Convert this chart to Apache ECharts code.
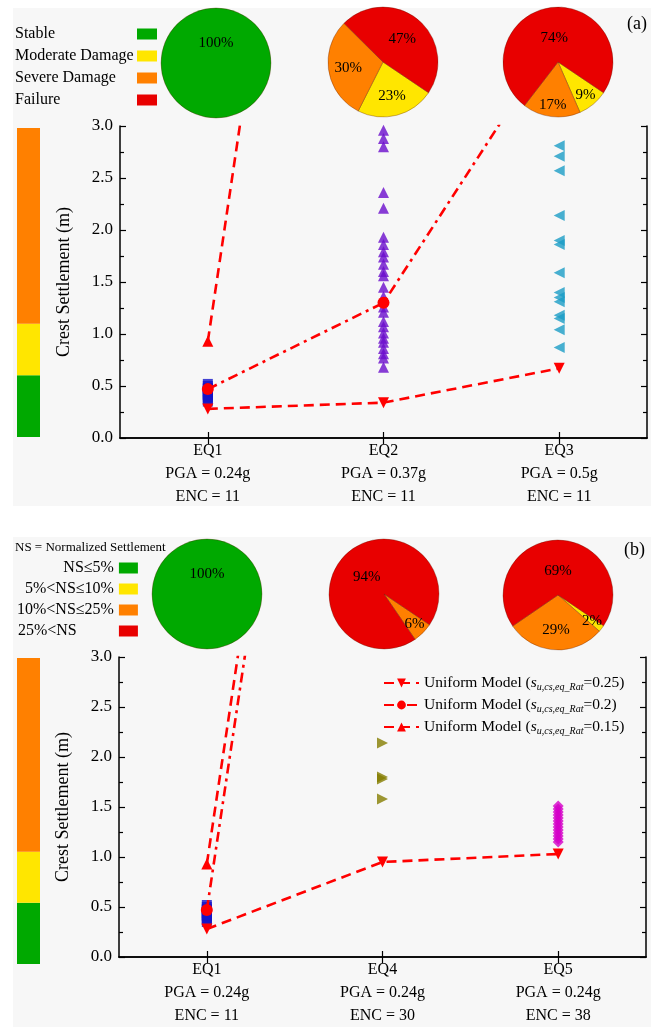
<!DOCTYPE html>
<html><head><meta charset="utf-8">
<script src="https://cdn.jsdelivr.net/npm/echarts@6/dist/echarts.min.js"></script>
<style>html,body{margin:0;padding:0;background:#fff}#c{width:661px;height:1027px}</style>
</head><body><div id="c"></div>
<script>
const FONT = "'Liberation Serif','Times New Roman',serif";

// ---------------- DATA ----------------
const categoriesA = ['EQ1', 'EQ2', 'EQ3'];
const categoriesB = ['EQ1', 'EQ4', 'EQ5'];
const pgaA = ['0.24g', '0.37g', '0.5g'];
const pgaB = ['0.24g', '0.24g', '0.24g'];
const encA = [11, 11, 11];
const encB = [11, 30, 38];

const classesA = ['Stable', 'Moderate Damage', 'Severe Damage', 'Failure'];
const classesB = ['NS≤5%', '5%<NS≤10%', '10%<NS≤25%', '25%<NS'];

// pie percentages, in class order (stable, moderate, severe, failure)
const pieA_EQ1 = [100, 0, 0, 0];
const pieA_EQ2 = [0, 23, 30, 47];
const pieA_EQ3 = [0, 9, 17, 74];
const pieB_EQ1 = [100, 0, 0, 0];
const pieB_EQ4 = [0, 0, 6, 94];
const pieB_EQ5 = [0, 2, 29, 69];

// damage band limits for the side colour bar (m)
const bandLimits = [0.6, 1.1, 3.0];

// crest settlements of individual analyses (m)
const eq1Settlement = [0.52, 0.50, 0.48, 0.47, 0.45, 0.44, 0.42, 0.41, 0.39, 0.37, 0.35];
const eq2Settlement = [2.96, 2.88, 2.80, 2.36, 2.21, 1.93, 1.86, 1.79, 1.74, 1.67, 1.60, 1.56, 1.45, 1.36, 1.26,
                       1.21, 1.12, 1.07, 1.01, 0.96, 0.92, 0.86, 0.81, 0.77, 0.68];
const eq3Settlement = [2.81, 2.71, 2.57, 2.14, 1.90, 1.86, 1.59, 1.40, 1.35, 1.31, 1.18, 1.15, 1.04, 0.87];
const eq4Settlement = [2.14, 1.80, 1.78, 1.58];
const eq5Settlement = [1.51, 1.48, 1.45, 1.42, 1.39, 1.36, 1.33, 1.30, 1.27, 1.24, 1.21, 1.18, 1.15];

// uniform model results
const ratios = ['0.25', '0.2', '0.15'];
const uniformA_025 = [0.28, 0.34, 0.67];
const uniformA_020 = [0.47, 1.30, 3.9];
const uniformA_015 = [0.93, 12.3, null];
const uniformB_025 = [0.28, 0.95, 1.03];
const uniformB_020 = [0.47, 12.2, null];
const uniformB_015 = [0.93, 12.7, null];

// ---------------- STYLE ----------------
const classColors = ['#00a900', '#ffe600', '#ff8000', '#e80000'];
const RED = '#ff0000';
const lineName = r => 'Uniform Model (s_u,cs,eq_Rat=' + r + ')';

function catAxes(gi, cats, pga, enc) {
  const line = { show: true, lineStyle: { color: '#000', width: 1.5 } };
  const tick = { show: true, inside: true, alignWithLabel: true, length: 6, lineStyle: { color: '#000', width: 1.2 } };
  return [
    { type: 'category', gridIndex: gi, data: cats, position: 'bottom', boundaryGap: true,
      axisLine: line, axisTick: tick, splitLine: { show: false },
      axisLabel: { color: '#000', fontFamily: FONT, fontSize: 16, lineHeight: 23, margin: 1,
        formatter: (v, i) => v + '\nPGA = ' + pga[i] + '\nENC = ' + enc[i] } },
    { type: 'category', gridIndex: gi, data: cats, position: 'top', boundaryGap: true,
      axisLine: line, axisTick: tick, axisLabel: { show: false }, splitLine: { show: false } }
  ];
}
function valAxes(gi) {
  const line = { show: true, lineStyle: { color: '#000', width: 1.5 } };
  const tick = { show: true, inside: true, length: 6, lineStyle: { color: '#000', width: 1.2 } };
  const minor = { show: true, splitNumber: 2, length: 4, lineStyle: { color: '#000', width: 1.2 } };
  return [
    { type: 'value', gridIndex: gi, min: 0, max: 3, interval: 0.5, position: 'left',
      name: 'Crest Settlement (m)', nameLocation: 'middle', nameGap: 47,
      nameTextStyle: { fontFamily: FONT, fontSize: 18, color: '#000' },
      axisLine: line, axisTick: tick, minorTick: minor, splitLine: { show: false },
      axisLabel: { formatter: v => v.toFixed(1), fontFamily: FONT, fontSize: 17, color: '#000', margin: 7 } },
    { type: 'value', gridIndex: gi, min: 0, max: 3, interval: 0.5, position: 'right',
      axisLine: line, axisTick: tick, minorTick: minor, splitLine: { show: false }, axisLabel: { show: false } }
  ];
}
function hiddenAxes(gi) {
  return {
    x: { type: 'category', gridIndex: gi, data: ['band'], show: false },
    y: { type: 'value', gridIndex: gi, min: 0, max: 3, show: false }
  };
}

function pieSeries(values, names, center, startAngle) {
  const R = 55;
  const data = values.map((v, i) => ({ name: names[i], value: v, itemStyle: { color: classColors[i] } }))
                     .filter(d => d.value > 0);
  const total = data.reduce((s, d) => s + d.value, 0);
  return {
    type: 'pie', center: center, radius: R, startAngle: startAngle, clockwise: true, silent: true,
    animation: false, data: data, z: 3,
    itemStyle: { borderColor: 'rgba(90,20,0,0.55)', borderWidth: 0.6 },
    label: { show: true, position: 'inside', formatter: p => p.value + '%', fontFamily: FONT, fontSize: 15, color: '#000' },
    labelLine: { show: false },
    emphasis: { disabled: true },
    labelLayout: params => {
      const i = params.dataIndex;
      let cum = 0;
      for (let k = 0; k < i; k++) cum += data[k].value;
      const v = data[i].value, share = v / total;
      const rf = share >= 0.99 ? 0.36 : share >= 0.6 ? 0.44 : share >= 0.4 ? 0.55 : share >= 0.2 ? 0.64 : 0.78;
      const mid = (startAngle - 360 * (cum + v / 2) / total) * Math.PI / 180;
      return { x: center[0] + rf * R * Math.cos(mid), y: center[1] - rf * R * Math.sin(mid),
               align: 'center', verticalAlign: 'middle' };
    }
  };
}

function scatter(xi, yi, cat, vals, symbol, size, rot, color) {
  return { type: 'scatter', xAxisIndex: xi, yAxisIndex: yi, symbol: symbol, symbolSize: size,
    symbolRotate: rot, itemStyle: { color: color }, z: 3, silent: true,
    data: vals.map(v => [cat, v]) };
}
function uniformLine(xi, yi, r, vals, symbol, size, rot, dash) {
  return { type: 'line', name: lineName(r), xAxisIndex: xi, yAxisIndex: yi, data: vals,
    symbol: symbol, symbolSize: size, symbolRotate: rot, showSymbol: true, clip: true, z: 5,
    connectNulls: false, silent: true,
    lineStyle: { color: RED, width: 2.6, type: dash },
    itemStyle: { color: RED } };
}
function bandBars(xi, yi) {
  const heights = bandLimits.map((v, i) => v - (i ? bandLimits[i - 1] : 0));
  return heights.map((h, i) => ({
    type: 'bar', name: 'band' + i, xAxisIndex: xi, yAxisIndex: yi, stack: 'band' + xi, barWidth: '100%',
    data: [h], itemStyle: { color: classColors[i] }, silent: true
  }));
}

const DASH = [10, 6];
const DASHDOT = [10, 5, 3, 5];

const hA = hiddenAxes(1), hB = hiddenAxes(3);
const xA = catAxes(0, categoriesA, pgaA, encA), xB = catAxes(2, categoriesB, pgaB, encB);
const yA = valAxes(0), yB = valAxes(2);

const option = {
  backgroundColor: '#ffffff',
  animation: false,
  textStyle: { fontFamily: FONT },
  graphic: [
    { type: 'rect', shape: { x: 13, y: 8, width: 638, height: 498 }, style: { fill: '#f7f7f7' }, z: -10, silent: true },
    { type: 'rect', shape: { x: 13, y: 537, width: 638, height: 490 }, style: { fill: '#f7f7f7' }, z: -10, silent: true }
  ],
  title: [
    { text: '(a)', left: 622, top: 10, textStyle: { fontFamily: FONT, fontSize: 18, fontWeight: 'normal', color: '#000' } },
    { text: '(b)', left: 619, top: 536, textStyle: { fontFamily: FONT, fontSize: 18, fontWeight: 'normal', color: '#000' } },
    { text: 'NS = Normalized Settlement', left: 10, top: 536, textStyle: { fontFamily: FONT, fontSize: 13, fontWeight: 'normal', color: '#000' } }
  ],
  grid: [
    { left: 120, top: 126, width: 527, height: 312 },
    { left: 17, top: 128, width: 23, height: 309 },
    { left: 119, top: 657, width: 527, height: 308 },
    { left: 17, top: 658, width: 23, height: 306 }
  ],
  xAxis: [xA[0], xA[1], hA.x, xB[0], xB[1], hB.x],
  yAxis: [yA[0], yA[1], hA.y, yB[0], yB[1], hB.y],
  legend: [
    { data: classesA, orient: 'vertical', left: 10, top: 20, align: 'right', icon: 'rect',
      itemWidth: 20, itemHeight: 11, itemGap: 4, selectedMode: false, itemStyle: { borderWidth: 0 },
      formatter: n => '{l|' + n + '}',
      textStyle: { fontFamily: FONT, fontSize: 16, color: '#000', lineHeight: 18,
        rich: { l: { width: 117, align: 'left', fontFamily: FONT, fontSize: 16, color: '#000' } } } },
    { data: classesB, orient: 'vertical', left: 12, top: 554, align: 'right', icon: 'rect',
      itemWidth: 19, itemHeight: 11, itemGap: 3, selectedMode: false, itemStyle: { borderWidth: 0 },
      formatter: n => n === '25%<NS' ? '{l|' + n + '}' : '{r|' + n + '}',
      textStyle: { fontFamily: FONT, fontSize: 16, color: '#000', lineHeight: 18,
        rich: { l: { width: 96, align: 'left', fontFamily: FONT, fontSize: 16, color: '#000' },
                r: { align: 'right', fontFamily: FONT, fontSize: 16, color: '#000' } } } },
    { data: ratios.map(lineName), orient: 'vertical', left: 378, top: 670, itemWidth: 35, itemHeight: 11,
      itemGap: 5, selectedMode: false,
      formatter: n => 'Uniform Model ({s|s}{sub|u,cs,eq_Rat}=' + n.split('=')[1],
      textStyle: { fontFamily: FONT, fontSize: 15.5, color: '#000',
        rich: { s: { fontFamily: FONT, fontSize: 15.5, fontStyle: 'italic', color: '#000' },
                sub: { fontFamily: FONT, fontSize: 10, fontStyle: 'italic', color: '#000', padding: [8, 0, 0, 0] } } } }
  ],
  series: [
    // panel (a)
    scatter(0, 0, 0, eq1Settlement, 'rect', 10, 0, '#1414c8'),
    scatter(0, 0, 1, eq2Settlement, 'triangle', 11, 0, '#6a0dcc'),
    scatter(0, 0, 2, eq3Settlement, 'triangle', 11, 90, '#1a9cc6'),
    uniformLine(0, 0, ratios[0], uniformA_025, 'triangle', 11, 180, DASH),
    uniformLine(0, 0, ratios[1], uniformA_020, 'circle', 12, 0, DASHDOT),
    uniformLine(0, 0, ratios[2], uniformA_015, 'triangle', 11, 0, DASH),
    ...bandBars(2, 2),
    pieSeries(pieA_EQ1, classesA, [216, 63], 270),
    pieSeries(pieA_EQ2, classesA, [383, 62], -34),
    pieSeries(pieA_EQ3, classesA, [558, 62], -34),
    // panel (b)
    scatter(3, 3, 0, eq1Settlement, 'rect', 10, 0, '#1414c8'),
    scatter(3, 3, 1, eq4Settlement, 'triangle', 11, -90, '#857d00'),
    scatter(3, 3, 2, eq5Settlement, 'diamond', [11, 11], 0, '#d400c8'),
    uniformLine(3, 3, ratios[0], uniformB_025, 'triangle', 11, 180, DASH),
    uniformLine(3, 3, ratios[1], uniformB_020, 'circle', 12, 0, DASHDOT),
    uniformLine(3, 3, ratios[2], uniformB_015, 'triangle', 11, 0, DASH),
    ...bandBars(5, 5),
    pieSeries(pieB_EQ1, classesB, [207, 594], 270),
    pieSeries(pieB_EQ4, classesB, [384, 594], -34),
    pieSeries(pieB_EQ5, classesB, [558, 595], -34)
  ]
};

const chart = echarts.init(document.getElementById('c'), null, { renderer: 'canvas' });
chart.setOption(option);
</script>
</body></html>
